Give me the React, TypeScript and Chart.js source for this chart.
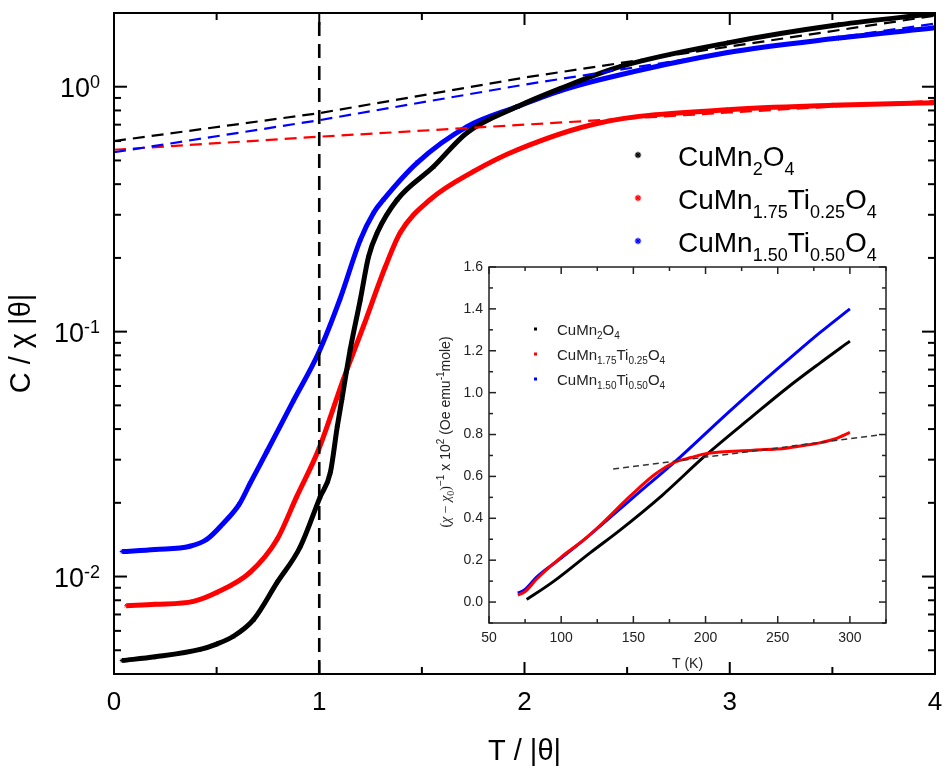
import React, { useEffect, useRef } from "react";
import { Chart, registerables } from "chart.js";
Chart.register(...registerables);

const SANS = '"Liberation Sans", Arial, Helvetica, sans-serif';
const SERIF = '"Liberation Serif", "Times New Roman", serif';

// ---------- main chart: C/(χ|θ|) vs T/|θ| ----------
const cuMn2O4_T = [0.04, 0.2, 0.42, 0.5, 0.58, 0.68, 0.795, 0.907, 1.005, 1.054, 1.088, 1.11, 1.151, 1.2, 1.24, 1.283, 1.38, 1.556, 1.72, 1.966, 2.17, 2.47, 2.99, 3.53, 4.0];
const cuMn2O4_C = [0.00454, 0.0047, 0.00504, 0.0053, 0.00569, 0.00667, 0.00946, 0.0132, 0.0212, 0.0266, 0.041, 0.0528, 0.0845, 0.135, 0.202, 0.254, 0.346, 0.471, 0.649, 0.83, 0.98, 1.21, 1.51, 1.79, 1.99];

const ti025_T = [0.062, 0.2, 0.387, 0.5, 0.663, 0.795, 0.89, 0.997, 1.117, 1.215, 1.322, 1.395, 1.54, 1.75, 1.966, 2.37, 2.99, 3.5, 4.0];
const ti025_C = [0.0076, 0.0077, 0.00792, 0.0086, 0.0104, 0.0142, 0.0212, 0.033, 0.0637, 0.105, 0.184, 0.254, 0.346, 0.45, 0.553, 0.713, 0.806, 0.84, 0.86];

const ti050_T = [0.04, 0.2, 0.37, 0.453, 0.53, 0.61, 0.663, 0.745, 0.875, 0.997, 1.1, 1.2, 1.265, 1.313, 1.478, 1.72, 1.966, 2.17, 2.37, 2.99, 3.53, 4.0];
const ti050_C = [0.01265, 0.0129, 0.0133, 0.0142, 0.0164, 0.0197, 0.024, 0.0324, 0.0524, 0.082, 0.135, 0.237, 0.306, 0.346, 0.49, 0.687, 0.83, 0.96, 1.07, 1.38, 1.58, 1.74];

// Curie-Weiss fit lines (dashed)
const fit_T = [0, 1, 2, 3, 4];
const fitBlack_C = [0.6, 0.78, 1.09, 1.46, 1.95];
const fitBlue_C = [0.54, 0.73, 1.02, 1.38, 1.81];
const fitRed_C = [0.553, 0.625, 0.7, 0.785, 0.877];

// vertical reference line at T/|θ| = 1
const refLine_T = [1, 1];
const refLine_C = [0.004, 2];

const mainXRange = [0, 4];
const mainYRange = [0.004, 2];
const mainXMajor = [0, 1, 2, 3, 4];
const mainXMinor = [0.5, 1.5, 2.5, 3.5];
const mainYDecades = [0.01, 0.1, 1];
const mainYDecadeSup = ["-2", "-1", "0"];

// ---------- inset: (χ-χ0)^-1 x 10^2 vs T (K) ----------
const insBlack_T = [76, 80, 95, 120, 141, 170, 200, 233, 256, 279, 300];
const insBlack_Y = [0.013, 0.03, 0.1, 0.235, 0.345, 0.51, 0.7, 0.89, 1.02, 1.14, 1.246];

const insBlue_T = [70, 75, 83, 100, 118, 150, 182, 210, 233, 256, 279, 300];
const insBlue_Y = [0.043, 0.06, 0.119, 0.21, 0.31, 0.5, 0.69, 0.869, 1.012, 1.15, 1.285, 1.4];

const insRed_T = [70, 75, 83, 100, 118, 150, 165, 177.5, 190, 201, 233, 256, 270, 279, 290, 300];
const insRed_Y = [0.033, 0.05, 0.11, 0.215, 0.31, 0.52, 0.61, 0.664, 0.69, 0.71, 0.725, 0.735, 0.75, 0.76, 0.78, 0.81];

const insFit_T = [136, 322];
const insFit_Y = [0.635, 0.8];

const insXRange = [50, 325];
const insYRange = [-0.1, 1.6];
const insXMajor = [50, 100, 150, 200, 250, 300];
const insXMinor = [75, 125, 175, 225, 275, 325];
const insYMajor = [0, 0.2, 0.4, 0.6, 0.8, 1.0, 1.2, 1.4, 1.6];
const insYMinor = [-0.1, 0.1, 0.3, 0.5, 0.7, 0.9, 1.1, 1.3, 1.5];

const seriesColors = ["#000000", "#ff0000", "#0000ff"];

type Piece = { t: string; s?: "sub" | "sup"; serif?: boolean; italic?: boolean };

const legendLabels: Piece[][] = [
  [{ t: "CuMn" }, { t: "2", s: "sub" }, { t: "O" }, { t: "4", s: "sub" }],
  [{ t: "CuMn" }, { t: "1.75", s: "sub" }, { t: "Ti" }, { t: "0.25", s: "sub" }, { t: "O" }, { t: "4", s: "sub" }],
  [{ t: "CuMn" }, { t: "1.50", s: "sub" }, { t: "Ti" }, { t: "0.50", s: "sub" }, { t: "O" }, { t: "4", s: "sub" }],
];

const insYTitle: Piece[] = [
  { t: "(", serif: true },
  { t: "χ", serif: true, italic: true },
  { t: " − ", serif: true },
  { t: "χ", serif: true, italic: true },
  { t: "0", s: "sub", serif: true },
  { t: ")", serif: true },
  { t: "−1", s: "sup" },
  { t: " x 10" },
  { t: "2", s: "sup" },
  { t: " (Oe emu" },
  { t: "-1", s: "sup" },
  { t: "mole)" },
];

function fontFor(p: Piece, size: number, sub: number) {
  const sz = p.s ? sub : size;
  return `${p.italic ? "italic " : ""}${sz}px ${p.serif ? SERIF : SANS}`;
}
function measureRich(ctx: CanvasRenderingContext2D, pieces: Piece[], size: number, sub: number) {
  let w = 0;
  for (const p of pieces) {
    ctx.font = fontFor(p, size, sub);
    w += ctx.measureText(p.t).width;
  }
  return w;
}
function drawRich(ctx: CanvasRenderingContext2D, pieces: Piece[], x: number, y: number, size: number, sub: number, subDy: number, supDy: number) {
  let cx = x;
  ctx.textAlign = "left";
  ctx.textBaseline = "alphabetic";
  for (const p of pieces) {
    ctx.font = fontFor(p, size, sub);
    const dy = p.s === "sub" ? subDy : p.s === "sup" ? supDy : 0;
    ctx.fillText(p.t, cx, y + dy);
    cx += ctx.measureText(p.t).width;
  }
}
function seg(ctx: CanvasRenderingContext2D, x1: number, y1: number, x2: number, y2: number) {
  ctx.beginPath();
  ctx.moveTo(x1, y1);
  ctx.lineTo(x2, y2);
  ctx.stroke();
}
function star(ctx: CanvasRenderingContext2D, x: number, y: number, r: number, color: string, lw: number) {
  ctx.save();
  ctx.strokeStyle = color;
  ctx.lineWidth = lw;
  for (let k = 0; k < 4; k++) {
    const a = (k * Math.PI) / 4;
    seg(ctx, x - r * Math.cos(a), y - r * Math.sin(a), x + r * Math.cos(a), y + r * Math.sin(a));
  }
  ctx.restore();
}

const pts = (xs: number[], ys: number[]) => xs.map((x, i) => ({ x, y: ys[i] }));

const mainDecor = {
  id: "mainDecor",
  afterDatasetsDraw(chart: any) {
    const ctx: CanvasRenderingContext2D = chart.ctx;
    const { left, right, top, bottom } = chart.chartArea;
    const xs = chart.scales.x;
    const ys = chart.scales.y;
    ctx.save();
    ctx.strokeStyle = "#000";
    ctx.fillStyle = "#000";
    ctx.lineWidth = 2;
    ctx.strokeRect(left, top, right - left, bottom - top);
    for (const v of mainXMajor) {
      const p = xs.getPixelForValue(v);
      seg(ctx, p, bottom, p, bottom - 12);
      seg(ctx, p, top, p, top + 12);
    }
    for (const v of mainXMinor) {
      const p = xs.getPixelForValue(v);
      seg(ctx, p, bottom, p, bottom - 7);
      seg(ctx, p, top, p, top + 7);
    }
    for (const d of [0.001, ...mainYDecades]) {
      for (let m = 1; m <= 9; m++) {
        const v = m * d;
        if (v < mainYRange[0] * 0.999 || v > mainYRange[1] * 1.001) continue;
        const p = ys.getPixelForValue(v);
        const len = m === 1 ? 13 : 7;
        seg(ctx, left, p, left + len, p);
        seg(ctx, right, p, right - len, p);
      }
    }
    // x tick labels
    ctx.font = `26px ${SANS}`;
    ctx.textAlign = "center";
    ctx.textBaseline = "middle";
    for (const v of mainXMajor) {
      ctx.fillText(String(v), xs.getPixelForValue(v), bottom + 29);
    }
    // y tick labels 10^n
    mainYDecades.forEach((d, i) => {
      const p = ys.getPixelForValue(d);
      const pieces: Piece[] = [{ t: "10" }, { t: mainYDecadeSup[i], s: "sup" }];
      const w = measureRich(ctx, pieces, 27, 18);
      drawRich(ctx, pieces, left - 14 - w, p + 10, 27, 18, 0, -9);
    });
    // axis titles
    ctx.font = `29px ${SANS}`;
    ctx.textAlign = "center";
    ctx.textBaseline = "middle";
    ctx.fillText("T / |θ|", (left + right) / 2, bottom + 78);
    ctx.save();
    ctx.translate(22, (top + bottom) / 2);
    ctx.rotate(-Math.PI / 2);
    ctx.fillText("C / χ |θ|", 0, 0);
    ctx.restore();
    // legend
    legendLabels.forEach((pieces, i) => {
      const base = 166 + i * 43;
      star(ctx, 638, base - 11, 3.2, seriesColors[i], 1.3);
      ctx.fillStyle = "#000";
      drawRich(ctx, pieces, 678, base, 28, 18, 9, -10);
    });
    ctx.restore();
  },
};

const insDecor = {
  id: "insDecor",
  afterDatasetsDraw(chart: any) {
    const ctx: CanvasRenderingContext2D = chart.ctx;
    const { left, right, top, bottom } = chart.chartArea;
    const xs = chart.scales.x;
    const ys = chart.scales.y;
    ctx.save();
    ctx.strokeStyle = "#222";
    ctx.fillStyle = "#222";
    ctx.lineWidth = 1.5;
    ctx.strokeRect(left, top, right - left, bottom - top);
    for (const v of insXMajor) {
      const p = xs.getPixelForValue(v);
      seg(ctx, p, bottom, p, bottom - 7);
      seg(ctx, p, top, p, top + 7);
    }
    for (const v of insXMinor) {
      const p = xs.getPixelForValue(v);
      seg(ctx, p, bottom, p, bottom - 4);
      seg(ctx, p, top, p, top + 4);
    }
    for (const v of insYMajor) {
      const p = ys.getPixelForValue(v);
      seg(ctx, left, p, left + 7, p);
      seg(ctx, right, p, right - 7, p);
    }
    for (const v of insYMinor) {
      const p = ys.getPixelForValue(v);
      seg(ctx, left, p, left + 4, p);
      seg(ctx, right, p, right - 4, p);
    }
    ctx.font = `14px ${SANS}`;
    ctx.textAlign = "center";
    ctx.textBaseline = "middle";
    for (const v of insXMajor) ctx.fillText(String(v), xs.getPixelForValue(v), bottom + 15);
    ctx.textAlign = "right";
    for (const v of insYMajor) ctx.fillText(v.toFixed(1), left - 6, ys.getPixelForValue(v));
    ctx.textAlign = "center";
    ctx.fillText("T (K)", (left + right) / 2, bottom + 41);
    // rotated y title
    ctx.save();
    ctx.translate(25, (top + bottom) / 2 - 13);
    ctx.rotate(-Math.PI / 2);
    const w = measureRich(ctx, insYTitle, 14, 10);
    drawRich(ctx, insYTitle, -w / 2, 5, 14, 10, 4, -6);
    ctx.restore();
    // legend
    legendLabels.forEach((pieces, i) => {
      const cy = 79 + i * 25;
      ctx.fillStyle = seriesColors[i];
      ctx.fillRect(114, cy - 1.5, 3, 3);
      ctx.fillStyle = "#222";
      drawRich(ctx, pieces, 137, cy + 5.5, 15, 10, 4, -6);
    });
    ctx.restore();
  },
};

export default function App() {
  const mainRef = useRef<HTMLCanvasElement>(null);
  const insRef = useRef<HTMLCanvasElement>(null);

  useEffect(() => {
    const curve = (label: string, xs: number[], ys: number[], color: string, order: number) => ({
      label,
      data: pts(xs, ys),
      borderColor: color,
      backgroundColor: color,
      borderWidth: 5,
      showLine: true,
      pointStyle: "star",
      pointRadius: 2.5,
      pointBorderWidth: 1,
      pointBorderColor: color,
      cubicInterpolationMode: "monotone",
      order,
    });
    const dashed = (label: string, xs: number[], ys: number[], color: string, order: number, dash: number[], w: number) => ({
      label,
      data: pts(xs, ys),
      borderColor: color,
      borderWidth: w,
      borderDash: dash,
      showLine: true,
      pointRadius: 0,
      order,
    });

    const main = new Chart(mainRef.current!, {
      type: "scatter",
      data: {
        datasets: [
          dashed("T = |θ|", refLine_T, refLine_C, "#000", 0, [14, 8], 2.6),
          dashed("fit CuMn2O4", fit_T, fitBlack_C, "#000", 1, [12, 7], 2.2),
          dashed("fit Ti0.50", fit_T, fitBlue_C, "#0000ff", 1, [12, 7], 2.2),
          dashed("fit Ti0.25", fit_T, fitRed_C, "#ff0000", 1, [12, 7], 2.2),
          curve("CuMn2O4", cuMn2O4_T, cuMn2O4_C, seriesColors[0], 2),
          curve("CuMn1.75Ti0.25O4", ti025_T, ti025_C, seriesColors[1], 3),
          curve("CuMn1.50Ti0.50O4", ti050_T, ti050_C, seriesColors[2], 4),
        ] as any,
      },
      options: {
        responsive: false,
        animation: false,
        devicePixelRatio: 1,
        layout: { padding: { left: 114, top: 13, right: 9, bottom: 95 } },
        scales: {
          x: { type: "linear", min: mainXRange[0], max: mainXRange[1], display: false },
          y: { type: "logarithmic", min: mainYRange[0], max: mainYRange[1], display: false },
        },
        plugins: { legend: { display: false }, tooltip: { enabled: false } },
      } as any,
      plugins: [mainDecor],
    });

    const insCurve = (label: string, xs: number[], ys: number[], color: string, order: number) => ({
      label,
      data: pts(xs, ys),
      borderColor: color,
      borderWidth: 3,
      showLine: true,
      pointRadius: 0,
      cubicInterpolationMode: "monotone",
      order,
    });
    const ins = new Chart(insRef.current!, {
      type: "scatter",
      data: {
        datasets: [
          dashed("fit", insFit_T, insFit_Y, "#333", 0, [6, 4], 1.5),
          insCurve("CuMn2O4", insBlack_T, insBlack_Y, seriesColors[0], 3),
          insCurve("CuMn1.75Ti0.25O4", insRed_T, insRed_Y, seriesColors[1], 1),
          insCurve("CuMn1.50Ti0.50O4", insBlue_T, insBlue_Y, seriesColors[2], 2),
        ] as any,
      },
      options: {
        responsive: false,
        animation: false,
        devicePixelRatio: 1,
        layout: { padding: { left: 69, top: 17, right: 14, bottom: 67 } },
        scales: {
          x: { type: "linear", min: insXRange[0], max: insXRange[1], display: false },
          y: { type: "linear", min: insYRange[0], max: insYRange[1], display: false },
        },
        plugins: { legend: { display: false }, tooltip: { enabled: false } },
      } as any,
      plugins: [insDecor],
    });

    return () => {
      main.destroy();
      ins.destroy();
    };
  }, []);

  return (
    <div style={{ position: "absolute", left: 0, top: 0, width: 944, height: 769, background: "#fff" }}>
      <canvas ref={mainRef} width={944} height={769} style={{ position: "absolute", left: 0, top: 0, width: 944, height: 769 }} />
      <canvas ref={insRef} width={480} height={440} style={{ position: "absolute", left: 420, top: 250, width: 480, height: 440 }} />
    </div>
  );
}
